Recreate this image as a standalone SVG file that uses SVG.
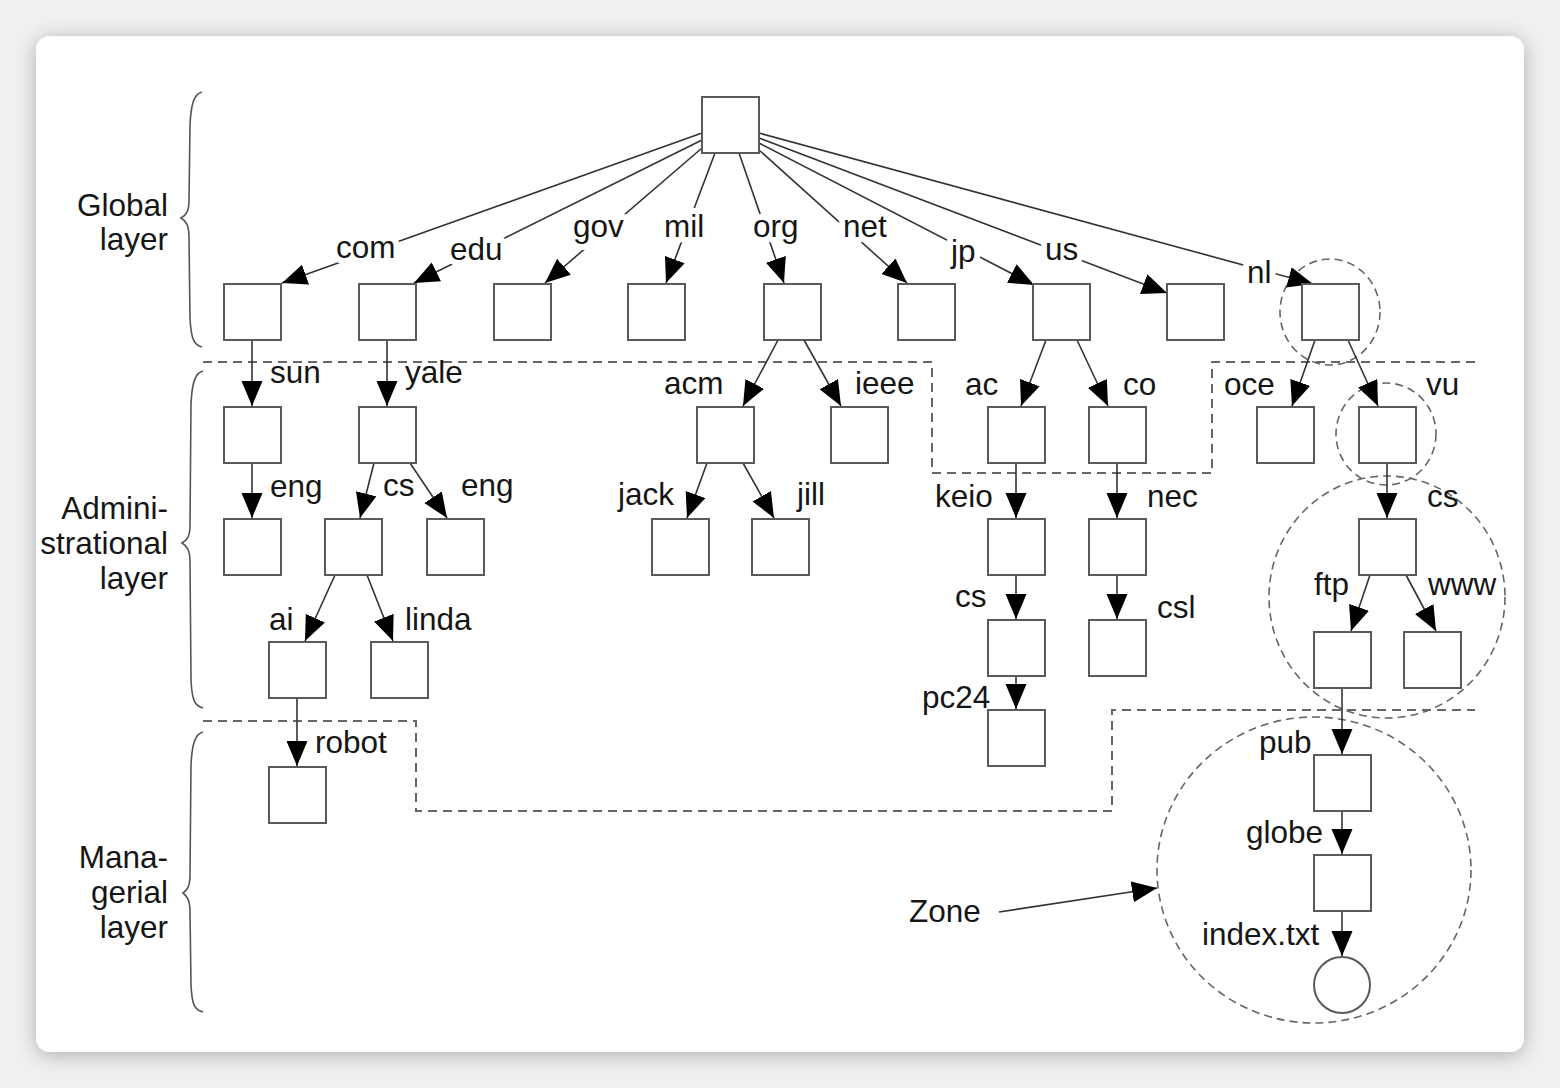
<svg xmlns="http://www.w3.org/2000/svg" width="1560" height="1088" viewBox="0 0 1560 1088">
  <defs>
    <filter id="cardShadow" x="-5%" y="-5%" width="110%" height="110%">
      <feDropShadow dx="0" dy="3" stdDeviation="10" flood-color="#000" flood-opacity="0.28"/>
    </filter>
    <marker id="arrow" markerUnits="userSpaceOnUse" markerWidth="27" markerHeight="22" refX="25" refY="10.5" orient="auto">
      <path d="M0,0 L25,10.5 L0,21 z" fill="#000"/>
    </marker>
    <style>
      .box { fill: #fff; stroke: #5a5a5a; stroke-width: 2; }
      .edge { fill: none; stroke: #333; stroke-width: 1.6; marker-end: url(#arrow); }
      .zone { fill: none; stroke: #666; stroke-width: 2; stroke-dasharray: 9 6; }
      .ring { fill: none; stroke: #666; stroke-width: 1.6; stroke-dasharray: 8 5; }
      .brace { fill: none; stroke: #555; stroke-width: 1.6; }
      text { font-family: "Liberation Sans", Arial, sans-serif; font-size: 31.5px; fill: #161616; }
      .layer { text-anchor: end; }
      .cut { stroke: #fff; stroke-width: 12; stroke-linejoin: round; paint-order: stroke; }
    </style>
  </defs>

  <!-- page and card -->
  <rect x="0" y="0" width="1560" height="1088" fill="#f0f0f0"/>
  <rect x="36" y="36" width="1488" height="1016" rx="14" fill="#fff" filter="url(#cardShadow)"/>

  <!-- layer braces and captions -->
  <g id="layers">
    <path class="brace" d="M202,92 C194,94 191,104 190,125 L189,200 C189,212 186,215 181,218 C186,221 189,225 189,237 L190,318 C191,339 194,345 202,347"/>
    <path class="brace" d="M203,371 C195,373 192,383 191,404 L190,525 C190,537 187,540 182,543 C187,546 190,550 190,562 L191,680 C192,701 195,706 203,708"/>
    <path class="brace" d="M203,732 C195,734 192,744 191,765 L190,875 C190,887 187,890 183,893 C187,896 190,900 190,912 L191,985 C192,1006 195,1010 203,1012"/>
    <text class="layer" x="168" y="216">Global</text>
    <text class="layer" x="168" y="250">layer</text>
    <text class="layer" x="168" y="519">Admini-</text>
    <text class="layer" x="168" y="554">strational</text>
    <text class="layer" x="168" y="589">layer</text>
    <text class="layer" x="168" y="868">Mana-</text>
    <text class="layer" x="168" y="903">gerial</text>
    <text class="layer" x="168" y="938">layer</text>
  </g>

  <!-- zone boundaries -->
  <g id="zones">
    <polyline class="zone" points="203,362 932,362 932,473 1212,473 1212,362 1475,362"/>
    <polyline class="zone" points="203,721 416,721 416,811 1112,811 1112,710 1475,710"/>
    <ellipse class="ring" cx="1330" cy="312" rx="50" ry="53"/>
    <ellipse class="ring" cx="1386" cy="434" rx="50" ry="51"/>
    <ellipse class="ring" cx="1387" cy="597" rx="118" ry="121"/>
    <ellipse class="ring" cx="1314" cy="870" rx="157" ry="153"/>
  </g>

  <!-- connectors -->
  <g id="connectors">
    <line class="edge" x1="702" y1="133" x2="282" y2="283"/>
    <line class="edge" x1="702" y1="140" x2="414" y2="283"/>
    <line class="edge" x1="702" y1="148" x2="545" y2="283"/>
    <line class="edge" x1="715" y1="153" x2="666" y2="283"/>
    <line class="edge" x1="739" y1="153" x2="784" y2="283"/>
    <line class="edge" x1="759" y1="150" x2="907" y2="283"/>
    <line class="edge" x1="759" y1="143" x2="1034" y2="285"/>
    <line class="edge" x1="759" y1="138" x2="1167" y2="293"/>
    <line class="edge" x1="759" y1="133" x2="1313" y2="284"/>

    <line class="edge" x1="252" y1="340" x2="252" y2="406"/>
    <line class="edge" x1="387" y1="340" x2="387" y2="406"/>
    <line class="edge" x1="778" y1="340" x2="743" y2="406"/>
    <line class="edge" x1="804" y1="340" x2="841" y2="406"/>
    <line class="edge" x1="1046" y1="340" x2="1021" y2="406"/>
    <line class="edge" x1="1077" y1="340" x2="1108" y2="406"/>
    <line class="edge" x1="1315" y1="340" x2="1292" y2="406"/>
    <line class="edge" x1="1348" y1="340" x2="1378" y2="406"/>

    <line class="edge" x1="252" y1="463" x2="252" y2="518"/>
    <line class="edge" x1="374" y1="463" x2="360" y2="518"/>
    <line class="edge" x1="410" y1="463" x2="447" y2="518"/>
    <line class="edge" x1="707" y1="463" x2="687" y2="518"/>
    <line class="edge" x1="743" y1="463" x2="774" y2="518"/>
    <line class="edge" x1="1016" y1="463" x2="1016" y2="518"/>
    <line class="edge" x1="1117" y1="463" x2="1117" y2="518"/>
    <line class="edge" x1="1387" y1="463" x2="1387" y2="518"/>

    <line class="edge" x1="335" y1="575" x2="305" y2="641"/>
    <line class="edge" x1="367" y1="575" x2="393" y2="641"/>
    <line class="edge" x1="1016" y1="575" x2="1016" y2="619"/>
    <line class="edge" x1="1117" y1="575" x2="1117" y2="619"/>
    <line class="edge" x1="1370" y1="575" x2="1351" y2="631"/>
    <line class="edge" x1="1406" y1="575" x2="1436" y2="631"/>

    <line class="edge" x1="297" y1="698" x2="297" y2="766"/>
    <line class="edge" x1="1016" y1="676" x2="1016" y2="709"/>
    <line class="edge" x1="1342" y1="688" x2="1342" y2="754"/>
    <line class="edge" x1="1342" y1="811" x2="1342" y2="854"/>
    <line class="edge" x1="1342" y1="911" x2="1342" y2="956"/>

    <line class="edge" x1="999" y1="912" x2="1157" y2="888"/>
  </g>

  <!-- edge labels -->
  <g id="labels">
    <text class="cut" x="336" y="258">com</text>
    <text class="cut" x="450" y="260">edu</text>
    <text class="cut" x="573" y="237">gov</text>
    <text class="cut" x="664" y="237">mil</text>
    <text class="cut" x="753" y="237">org</text>
    <text class="cut" x="843" y="237">net</text>
    <text class="cut" x="951" y="262">jp</text>
    <text class="cut" x="1045" y="260">us</text>
    <text class="cut" x="1247" y="283">nl</text>

    <text x="270" y="383">sun</text>
    <text x="405" y="383">yale</text>
    <text x="664" y="394">acm</text>
    <text x="855" y="394">ieee</text>
    <text x="965" y="395">ac</text>
    <text x="1123" y="395">co</text>
    <text x="1224" y="395">oce</text>
    <text x="1426" y="395">vu</text>

    <text x="270" y="497">eng</text>
    <text x="383" y="496">cs</text>
    <text x="461" y="496">eng</text>
    <text x="618" y="505">jack</text>
    <text x="797" y="505">jill</text>
    <text x="935" y="507">keio</text>
    <text x="1147" y="507">nec</text>
    <text x="1427" y="507">cs</text>

    <text x="269" y="630">ai</text>
    <text x="405" y="630">linda</text>
    <text x="955" y="607">cs</text>
    <text x="1157" y="618">csl</text>
    <text x="1314" y="595">ftp</text>
    <text x="1428" y="595">www</text>

    <text x="315" y="753">robot</text>
    <text x="922" y="708">pc24</text>
    <text x="1259" y="753">pub</text>
    <text x="1246" y="843">globe</text>
    <text x="1202" y="945">index.txt</text>
    <text x="909" y="922">Zone</text>
  </g>

  <!-- name-space nodes -->
  <g id="n-root"><rect class="box" x="702" y="97" width="57" height="56"/></g>

  <g id="n-com"><rect class="box" x="224" y="284" width="57" height="56"/></g>
  <g id="n-edu"><rect class="box" x="359" y="284" width="57" height="56"/></g>
  <g id="n-gov"><rect class="box" x="494" y="284" width="57" height="56"/></g>
  <g id="n-mil"><rect class="box" x="628" y="284" width="57" height="56"/></g>
  <g id="n-org"><rect class="box" x="764" y="284" width="57" height="56"/></g>
  <g id="n-net"><rect class="box" x="898" y="284" width="57" height="56"/></g>
  <g id="n-jp"><rect class="box" x="1033" y="284" width="57" height="56"/></g>
  <g id="n-us"><rect class="box" x="1167" y="284" width="57" height="56"/></g>
  <g id="n-nl"><rect class="box" x="1302" y="284" width="57" height="56"/></g>

  <g id="n-sun"><rect class="box" x="224" y="407" width="57" height="56"/></g>
  <g id="n-yale"><rect class="box" x="359" y="407" width="57" height="56"/></g>
  <g id="n-acm"><rect class="box" x="697" y="407" width="57" height="56"/></g>
  <g id="n-ieee"><rect class="box" x="831" y="407" width="57" height="56"/></g>
  <g id="n-ac"><rect class="box" x="988" y="407" width="57" height="56"/></g>
  <g id="n-co"><rect class="box" x="1089" y="407" width="57" height="56"/></g>
  <g id="n-oce"><rect class="box" x="1257" y="407" width="57" height="56"/></g>
  <g id="n-vu"><rect class="box" x="1359" y="407" width="57" height="56"/></g>

  <g id="n-sun-eng"><rect class="box" x="224" y="519" width="57" height="56"/></g>
  <g id="n-yale-cs"><rect class="box" x="325" y="519" width="57" height="56"/></g>
  <g id="n-yale-eng"><rect class="box" x="427" y="519" width="57" height="56"/></g>
  <g id="n-jack"><rect class="box" x="652" y="519" width="57" height="56"/></g>
  <g id="n-jill"><rect class="box" x="752" y="519" width="57" height="56"/></g>
  <g id="n-keio"><rect class="box" x="988" y="519" width="57" height="56"/></g>
  <g id="n-nec"><rect class="box" x="1089" y="519" width="57" height="56"/></g>
  <g id="n-vu-cs"><rect class="box" x="1359" y="519" width="57" height="56"/></g>

  <g id="n-ai"><rect class="box" x="269" y="642" width="57" height="56"/></g>
  <g id="n-linda"><rect class="box" x="371" y="642" width="57" height="56"/></g>
  <g id="n-keio-cs"><rect class="box" x="988" y="620" width="57" height="56"/></g>
  <g id="n-csl"><rect class="box" x="1089" y="620" width="57" height="56"/></g>
  <g id="n-ftp"><rect class="box" x="1314" y="632" width="57" height="56"/></g>
  <g id="n-www"><rect class="box" x="1404" y="632" width="57" height="56"/></g>

  <g id="n-robot"><rect class="box" x="269" y="767" width="57" height="56"/></g>
  <g id="n-pc24"><rect class="box" x="988" y="710" width="57" height="56"/></g>
  <g id="n-pub"><rect class="box" x="1314" y="755" width="57" height="56"/></g>
  <g id="n-globe"><rect class="box" x="1314" y="855" width="57" height="56"/></g>
  <g id="n-index"><circle cx="1342" cy="985" r="28" fill="#fff" stroke="#5a5a5a" stroke-width="2"/></g>
</svg>
